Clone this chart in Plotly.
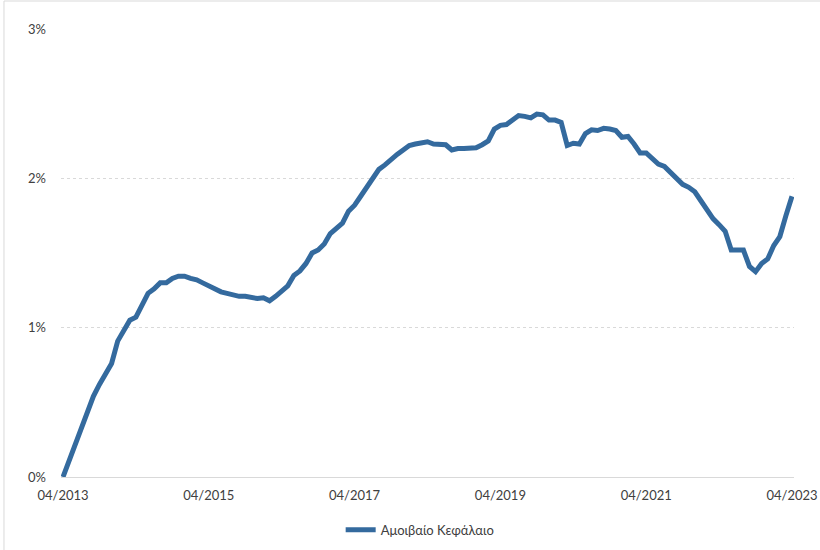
import plotly.graph_objects as go

# monthly categories 04/2013 .. 04/2023
months = []
for k in range(121):
    m = (3 + k) % 12 + 1
    y = 2013 + (3 + k) // 12
    months.append(f"{m:02d}/{y}")

series_name = "Αμοιβαίο Κεφάλαιο"
values_pct = [
    0.00, 0.11, 0.22, 0.34, 0.45, 0.54, 0.62, 0.69, 0.76, 0.91,
    0.98, 1.05, 1.07, 1.15, 1.23, 1.26, 1.30, 1.30, 1.33, 1.345,
    1.345, 1.33, 1.32, 1.30, 1.28, 1.26, 1.24, 1.23, 1.22, 1.21,
    1.21, 1.205, 1.195, 1.20, 1.18, 1.21, 1.25, 1.28, 1.35, 1.38,
    1.43, 1.50, 1.52, 1.56, 1.63, 1.66, 1.70, 1.78, 1.82, 1.88,
    1.94, 2.00, 2.06, 2.09, 2.13, 2.16, 2.19, 2.22, 2.23, 2.24,
    2.245, 2.23, 2.23, 2.225, 2.19, 2.20, 2.20, 2.20, 2.205, 2.225,
    2.25, 2.33, 2.355, 2.36, 2.39, 2.42, 2.415, 2.405, 2.43, 2.425,
    2.39, 2.39, 2.375, 2.22, 2.235, 2.23, 2.30, 2.325, 2.32, 2.335,
    2.33, 2.32, 2.275, 2.28, 2.23, 2.17, 2.17, 2.13, 2.095, 2.08,
    2.04, 1.99, 1.96, 1.94, 1.91, 1.85, 1.79, 1.73, 1.69, 1.645,
    1.52, 1.52, 1.52, 1.41, 1.375, 1.43, 1.46, 1.55, 1.61, 1.75,
    1.88,
]
values = [v / 100 for v in values_pct]

x_ticks = ["04/2013", "04/2015", "04/2017", "04/2019", "04/2021", "04/2023"]
y_ticks = [0, 0.01, 0.02, 0.03]
y_ticktext = ["0%", "1%", "2%", "3%"]

font_family = "Lato, 'Noto Sans', sans-serif"

fig = go.Figure()
fig.add_trace(go.Scatter(
    x=months, y=values, mode="lines", name=series_name,
    line=dict(color="#346a9e", width=5),
))

fig.update_layout(
    width=820, height=550,
    margin=dict(l=61, r=26, t=29, b=73, autoexpand=False),
    paper_bgcolor="white", plot_bgcolor="white",
    font=dict(family=font_family, size=13, color="#404040"),
    showlegend=True,
    legend=dict(orientation="h", x=0.49, xanchor="center", y=-0.118, yanchor="middle",
                font=dict(size=13, color="#404040"), itemwidth=30),
    xaxis=dict(type="category", range=[-0.33, 120.33], tickmode="array",
               tickvals=x_ticks, ticktext=x_ticks, showgrid=False,
               showline=True, linecolor="#d9d9d9", linewidth=1, automargin=False,
               ticks="", ticklabelstandoff=6, zeroline=False),
    yaxis=dict(range=[0, 0.03], tickmode="array", tickvals=y_ticks, ticktext=y_ticktext,
               showgrid=True, gridcolor="#d9d9d9", griddash="dot", gridwidth=1,
               automargin=False,
               zeroline=False, showline=False, ticks="", ticklabelstandoff=14),
    shapes=[
        dict(type="line", xref="paper", yref="paper", x0=-0.0778, x1=1.05, y0=1.0625, y1=1.0625,
             line=dict(color="#d9d9d9", width=1)),
        dict(type="line", xref="paper", yref="paper", x0=-0.0778, x1=-0.0778, y0=1.0625, y1=-0.17,
             line=dict(color="#d9d9d9", width=1)),
    ],
)

fig.write_html("out.html", config={"displayModeBar": False},
               post_script="document.body.style.margin='0';")
